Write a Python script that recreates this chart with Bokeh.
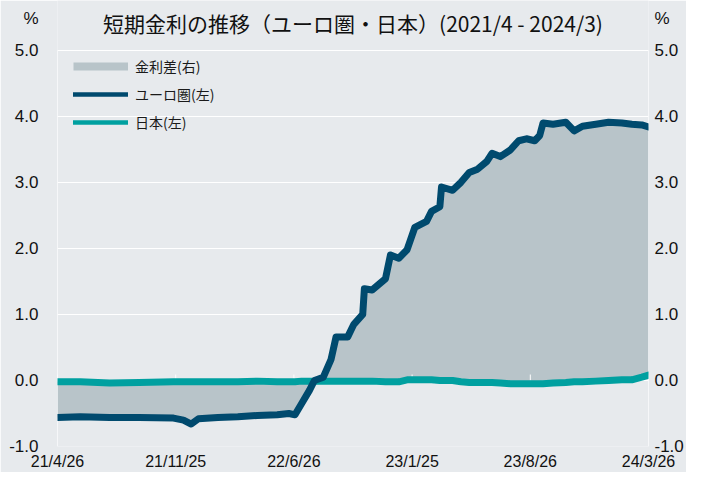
import numpy as np
import pandas as pd
from bokeh.plotting import figure
from bokeh.models import (FixedTicker, NumeralTickFormatter, LinearAxis, Legend,
                          LegendItem, Label, ColumnDataSource, Range1d)
from bokeh.embed import file_html
from bokeh.resources import INLINE

# ---- data ----
dates = ["2021-04-26", "2021-06-06", "2021-07-29", "2021-09-20", "2021-11-21",
         "2021-12-09", "2021-12-23", "2022-01-05", "2022-02-09", "2022-03-17",
         "2022-04-21", "2022-05-27", "2022-06-17", "2022-06-28", "2022-07-10",
         "2022-07-24", "2022-08-02", "2022-08-18", "2022-09-01", "2022-09-10",
         "2022-10-01", "2022-10-12", "2022-10-28", "2022-10-31", "2022-11-14",
         "2022-12-08", "2022-12-17", "2023-01-01", "2023-01-16", "2023-01-30",
         "2023-02-20", "2023-03-01", "2023-03-16", "2023-03-19", "2023-04-08",
         "2023-04-23", "2023-05-08", "2023-05-23", "2023-06-09", "2023-06-18",
         "2023-07-03", "2023-07-21", "2023-08-05", "2023-08-19", "2023-09-03",
         "2023-09-12", "2023-09-18", "2023-10-06", "2023-10-29", "2023-11-13",
         "2023-11-28", "2023-12-22", "2024-01-14", "2024-02-07", "2024-02-25",
         "2024-03-14", "2024-03-26"]
euro = [-0.56, -0.55, -0.56, -0.56, -0.57,
        -0.60, -0.66, -0.58, -0.56, -0.55,
        -0.53, -0.52, -0.50, -0.52, -0.35,
        -0.15, 0.00, 0.05, 0.32, 0.66,
        0.66, 0.85, 1.00, 1.39, 1.37,
        1.54, 1.90, 1.85, 1.98, 2.32,
        2.41, 2.56, 2.63, 2.93, 2.88,
        3.00, 3.15, 3.20, 3.32, 3.44,
        3.39, 3.49, 3.63, 3.66, 3.63,
        3.71, 3.90, 3.88, 3.91, 3.78,
        3.85, 3.88, 3.91, 3.90, 3.88,
        3.87, 3.84]
japan = [-0.02, -0.02, -0.04, -0.03, -0.02,
         -0.02, -0.02, -0.02, -0.02, -0.02,
         -0.01, -0.02, -0.02, -0.02, -0.01,
         -0.01, -0.01, -0.01, -0.01, -0.01,
         -0.01, -0.01, -0.01, -0.01, -0.01,
         -0.02, -0.02, -0.02, 0.01, 0.01,
         0.01, 0.01, 0.00, 0.00, 0.00,
         -0.02, -0.03, -0.03, -0.03, -0.03,
         -0.04, -0.05, -0.05, -0.05, -0.05,
         -0.05, -0.05, -0.04, -0.03, -0.02,
         -0.02, -0.01, 0.00, 0.01, 0.01,
         0.05, 0.08]

tick_dates = ["2021-04-26", "2021-11-25", "2022-06-26", "2023-01-25", "2023-08-26", "2024-03-26"]
tick_labels = ["21/4/26", "21/11/25", "22/6/26", "23/1/25", "23/8/26", "24/3/26"]
y_ticks = [-1, 0, 1, 2, 3, 4, 5]
unit_label = "%"

title_text = "短期金利の推移（ユーロ圏・日本）(2021/4 - 2024/3)"
legend_labels = ["金利差(右)", "ユーロ圏(左)", "日本(左)"]

# ---- styling / layout constants ----
BG = "#e7eaed"
FILL = "#b8c4c9"
EURO_C = "#004a6e"
JP_C = "#00a0a0"
TXT = "#111111"
NUM_FONT = "Liberation Sans"
CJK_FONT = "Noto Sans CJK JP"
Y_TOP = 5.754      # frame extends above 5.0 to hold title and unit labels
Y_UNIT = 5.48      # where the "%" unit labels sit
Y_TITLE = 5.42     # where the title sits

x = pd.to_datetime(dates)
src = ColumnDataSource(dict(x=x, euro=euro, japan=japan))

tick_ms = [float(v) for v in (pd.to_datetime(tick_dates).astype("int64") // 10**6)]
x0, x1 = tick_ms[0], tick_ms[-1]

p = figure(width=686, height=472, x_axis_type="datetime",
           x_range=Range1d(x0, x1),
           y_range=Range1d(y_ticks[0], Y_TOP),
           output_backend="svg", toolbar_location=None,
           min_border_left=57, min_border_right=34,
           min_border_top=0, min_border_bottom=24)
p.background_fill_color = BG
p.border_fill_color = BG
p.outline_line_color = None
p.xgrid.visible = False
p.ygrid.grid_line_color = "white"
p.ygrid.grid_line_width = 1
p.ygrid.ticker = FixedTicker(ticks=y_ticks)

# x axis
xa = p.xaxis[0]
xa.ticker = FixedTicker(ticks=tick_ms)
xa.major_label_overrides = {t: l for t, l in zip(tick_ms, tick_labels)}
xa.axis_line_color = None
xa.major_tick_line_color = None
xa.minor_tick_line_color = None
xa.major_tick_out = 0
xa.major_tick_in = 0
xa.major_label_standoff = 6
xa.major_label_text_font = NUM_FONT
xa.major_label_text_font_size = "16px"
xa.major_label_text_color = TXT

# y axes (the "%" unit shown as an extra labelled tick)
def style_y(ax, standoff):
    ax.ticker = FixedTicker(ticks=y_ticks + [Y_UNIT])
    ax.formatter = NumeralTickFormatter(format="0.0")
    ax.major_label_overrides = {Y_UNIT: unit_label}
    ax.axis_line_color = None
    ax.major_tick_line_color = None
    ax.minor_tick_line_color = None
    ax.major_tick_out = 0
    ax.major_tick_in = 0
    ax.major_label_standoff = standoff
    ax.major_label_text_font = NUM_FONT
    ax.major_label_text_font_size = "17px"
    ax.major_label_text_color = TXT

style_y(p.yaxis[0], 19)
ra = LinearAxis()
style_y(ra, 6)
p.add_layout(ra, "right")

# white frame sides (from -1.0 to 5.0)
p.segment(x0=[x0, x1], y0=[y_ticks[0]] * 2, x1=[x0, x1], y1=[y_ticks[-1]] * 2,
          line_color="white", line_width=1)

# spread area
p.varea(x="x", y1="japan", y2="euro", source=src, fill_color=FILL, fill_alpha=1)

# small tick marks on the zero line
p.segment(x0=tick_ms, y0=[0] * len(tick_ms), x1=tick_ms, y1=[0.09] * len(tick_ms),
          line_color="white", line_width=1)

p.line(x="x", y="japan", source=src, line_color=JP_C, line_width=7,
       line_join="round", line_cap="round")
p.line(x="x", y="euro", source=src, line_color=EURO_C, line_width=7,
       line_join="round", line_cap="round")

# legend proxies (no visible data)
nan = [np.nan]
lg_area = p.line(x=nan, y=nan, line_color=FILL, line_width=8, line_cap="butt")
lg_euro = p.line(x=nan, y=nan, line_color=EURO_C, line_width=4.5, line_cap="round")
lg_jp = p.line(x=nan, y=nan, line_color=JP_C, line_width=4.5, line_cap="round")
legend = Legend(items=[LegendItem(label=legend_labels[0], renderers=[lg_area]),
                       LegendItem(label=legend_labels[1], renderers=[lg_euro]),
                       LegendItem(label=legend_labels[2], renderers=[lg_jp])],
                location=(16, 314), padding=6, margin=0, spacing=8,
                glyph_width=55, glyph_height=20, label_height=20,
                label_standoff=7, label_text_font=CJK_FONT,
                label_text_font_size="14px", label_text_color="#1a1a1a",
                background_fill_alpha=0, border_line_color=None)
p.add_layout(legend, "center")

# title
mid_ms = (x0 + x1) / 2
p.add_layout(Label(x=mid_ms, y=Y_TITLE, text=title_text,
                   text_align="center", text_baseline="middle",
                   text_font=CJK_FONT, text_font_size="21px", text_color=TXT))

open("out.html", "w").write(file_html(p, INLINE))
